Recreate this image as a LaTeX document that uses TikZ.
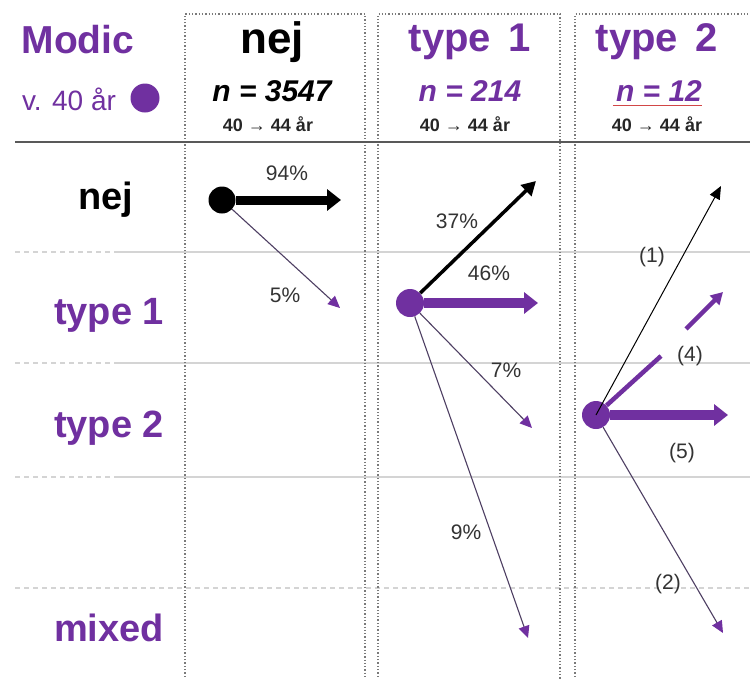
\documentclass[tikz,border=0pt]{standalone}
\usepackage{fontspec}
\setmainfont{Liberation Sans}
\usetikzlibrary{arrows.meta}
\definecolor{purp}{HTML}{7030A0}
\definecolor{txt}{HTML}{333333}
\definecolor{thinc}{HTML}{4E3F63}
\definecolor{rowc}{HTML}{D4D4D4}
\definecolor{boxc}{HTML}{7A7A7A}
\begin{document}
\begin{tikzpicture}[x=1pt,y=-1pt,
  rowlab/.style={font=\fontsize{38}{40}\selectfont\bfseries, inner sep=0pt},
  hdr/.style={font=\fontsize{40}{42}\selectfont\bfseries, inner sep=0pt},
  nlab/.style={font=\fontsize{30}{32}\selectfont\bfseries\itshape, inner sep=0pt},
  agelab/.style={font=\fontsize{18}{20}\selectfont\bfseries, inner sep=0pt, text=black!85},
  pct/.style={font=\fontsize{21}{23}\selectfont, text=txt, inner sep=0pt},
  dotn/.style={circle, inner sep=0pt, minimum size=28pt},
  rowline/.style={draw=rowc, line width=1.5pt},
  rowdash/.style={draw=rowc, line width=1.5pt, dash pattern=on 5pt off 4pt},
  boxline/.style={draw=boxc, line width=1.3pt, dotted},
  thinarr/.style={draw=thinc, line width=1.1pt, -{Triangle[length=12pt,width=11pt,color=purp]}},
  thickarr/.style={line width=10pt, -{Triangle[length=14pt,width=21pt]}},
]
\useasboundingbox (0,0) rectangle (750,678);
\fill[white] (0,0) rectangle (750,678);

% row lines
\draw[rowdash] (15,252) -- (118,252);
\draw[rowline] (118,252) -- (750,252);
\draw[rowdash] (15,363) -- (118,363);
\draw[rowline] (118,363) -- (750,363);
\draw[rowdash] (15,477) -- (118,477);
\draw[rowline] (118,477) -- (750,477);
\draw[rowdash] (15,588) -- (750,588);

% header boxes
\draw[boxline] (185,690) -- (185,14) -- (365,14) -- (365,690);
\draw[boxline] (378,690) -- (378,14) -- (560,14) -- (560,690);
\draw[boxline] (575,690) -- (575,14) -- (770,14);

% header line
\draw[draw=black!65, line width=2.5pt] (15,142) -- (750,142);

% top-left legend
\node[font=\fontsize{39}{41}\selectfont\bfseries, text=purp, inner sep=0pt] (modic) at (78,40) {Modic};
\node[font=\fontsize{28}{30}\selectfont, text=purp, inner sep=0pt] (v40) at (69,99) {v. 40 år};
\node[dotn, fill=purp, minimum size=29pt] (ldot) at (145,98) {};

% headers
\node[hdr, font=\fontsize{44}{46}\selectfont\bfseries] (hnej) at (272,42) {nej};
\node[nlab] (n1) at (272,91) {n = 3547};
\node[agelab] (a1) at (268,124) {40 → 44 år};
\node[hdr, text=purp] (ht1) at (470,42) {type\hspace{0.45em}1};
\node[nlab, text=purp] (n2) at (470,91) {n = 214};
\node[agelab] (a2) at (465,124) {40 → 44 år};
\node[hdr, text=purp] (ht2) at (657,42) {type\hspace{0.45em}2};
\node[nlab, text=purp] (n3) at (659,91) {n = 12};
\node[agelab] (a3) at (657,124) {40 → 44 år};
\draw[draw={rgb,255:red,210;green,70;blue,70}, line width=1.6pt] (n3.south west) ++(-3,4) coordinate (ul1) -- (n3.south east |- ul1);

% row labels
\node[rowlab] (rnej) at (106,200) {nej};
\node[rowlab, text=purp] (rt1) at (109,315) {type 1};
\node[rowlab, text=purp] (rt2) at (109,428) {type 2};
\node[rowlab, text=purp] (rmix) at (109,628) {mixed};

% column 1
\coordinate (c1a) at (341,200);
\coordinate (c1b) at (340,308);
\node[dotn, fill=black, minimum size=27pt] (d1) at (222,200) {};
\draw[thickarr, draw=black, line width=9pt] (d1) -- (c1a);
\draw[thinarr] (d1) -- (c1b);
\node[pct] (p94) at (287,173) {94\%};
\node[pct] (p5) at (285,295) {5\%};

% column 2
\coordinate (c2a) at (536,181);
\coordinate (c2b) at (538,303);
\coordinate (c2c) at (532,428);
\coordinate (c2d) at (528,638);
\node[dotn, fill=purp] (d2) at (410,303) {};
\draw[draw=black, line width=3.5pt, -{Triangle[length=14pt,width=15pt]}] (d2) -- (c2a);
\draw[thickarr, draw=purp, line width=10pt] (d2) -- (c2b);
\draw[thinarr] (d2) -- (c2c);
\draw[thinarr] (d2) -- (c2d);
\node[pct] (p37) at (457,221) {37\%};
\node[pct] (p46) at (489,273) {46\%};
\node[pct] (p7) at (506,370) {7\%};
\node[pct] (p9) at (466,532) {9\%};

% column 3
\coordinate (c3a) at (721,186);
\coordinate (c3g1) at (661,356);
\coordinate (c3g2) at (686,329);
\coordinate (c3b) at (723,292);
\coordinate (c3c) at (728,415);
\coordinate (c3d) at (723,633);
\node[dotn, fill=purp] (d3) at (596,415) {};
\draw[draw=black, line width=1pt, -{Triangle[length=13pt,width=11pt]}] (d3.center) -- (c3a);
\draw[draw=purp, line width=4.5pt] (d3) -- (c3g1);
\draw[draw=purp, line width=4.5pt, -{Triangle[length=12pt,width=13pt]}] (c3g2) -- (c3b);
\draw[thickarr, draw=purp, line width=10pt] (d3) -- (c3c);
\draw[thinarr] (d3) -- (c3d);
\node[pct] (q1) at (652,257) {(1)};
\node[pct] (q4) at (690,356) {(4)};
\node[pct] (q5) at (682,453) {(5)};
\node[pct] (q2) at (668,584) {(2)};
\end{tikzpicture}
\end{document}
